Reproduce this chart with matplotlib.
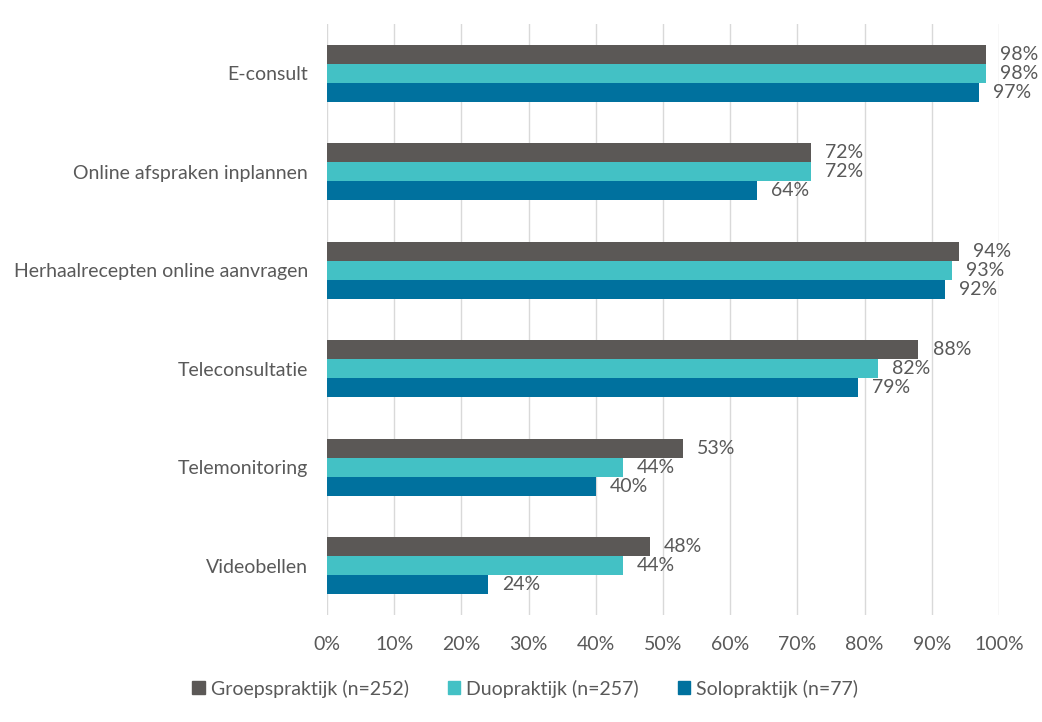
import numpy as np
import matplotlib.pyplot as plt
from matplotlib.patches import Patch

# Data
categories = ['E-consult', 'Online afspraken inplannen',
              'Herhaalrecepten online aanvragen', 'Teleconsultatie',
              'Telemonitoring', 'Videobellen']
groep = [98, 72, 94, 88, 53, 48]
duo = [98, 72, 93, 82, 44, 44]
solo = [97, 64, 92, 79, 40, 24]
series_names = ['Groepspraktijk (n=252)', 'Duopraktijk (n=257)',
                'Solopraktijk (n=77)']
colors = ['#5B5856', '#43C1C5', '#00719E']
text_color = '#595959'

plt.rcParams['font.family'] = ['Lato', 'DejaVu Sans']


def main():
    fig = plt.figure(figsize=(10.42, 7.22), dpi=100)
    ax = fig.add_axes([0.3138, 0.148, 0.645, 0.819])

    fs = 14
    y = np.arange(len(categories))
    h = 0.193
    offsets = [-h, 0, h]
    for vals, off, col in zip([groep, duo, solo], offsets, colors):
        bars = ax.barh(y + off, vals, height=h, color=col, zorder=3)
        for b, v in zip(bars, vals):
            ax.text(b.get_width() + 2.1, b.get_y() + b.get_height() / 2,
                    f'{v}%', va='center', ha='left', fontsize=fs,
                    color=text_color)

    ax.set_xlim(0, 100)
    ax.set_ylim(len(categories) - 0.5, -0.5)
    ax.set_xticks(np.arange(0, 101, 10))
    ax.set_xticklabels([f'{t}%' for t in range(0, 101, 10)])
    ax.set_yticks(y)
    ax.set_yticklabels(categories)
    ax.tick_params(axis='both', length=0, labelsize=fs,
                   labelcolor=text_color)
    ax.tick_params(axis='y', pad=13.5)
    ax.tick_params(axis='x', pad=15)
    ax.grid(axis='x', color='#D9D9D9', lw=1, zorder=0)
    for s in ax.spines.values():
        s.set_visible(False)

    handles = [Patch(color=c) for c in colors]
    fig.legend(handles, series_names, loc='center',
               bbox_to_anchor=(0.504, 0.046), ncol=3, frameon=False,
               fontsize=fs, labelcolor=text_color, handlelength=0.65,
               handleheight=0.65, handletextpad=0.3, columnspacing=2.0)

    fig.savefig('out.png', dpi=100)


main()
